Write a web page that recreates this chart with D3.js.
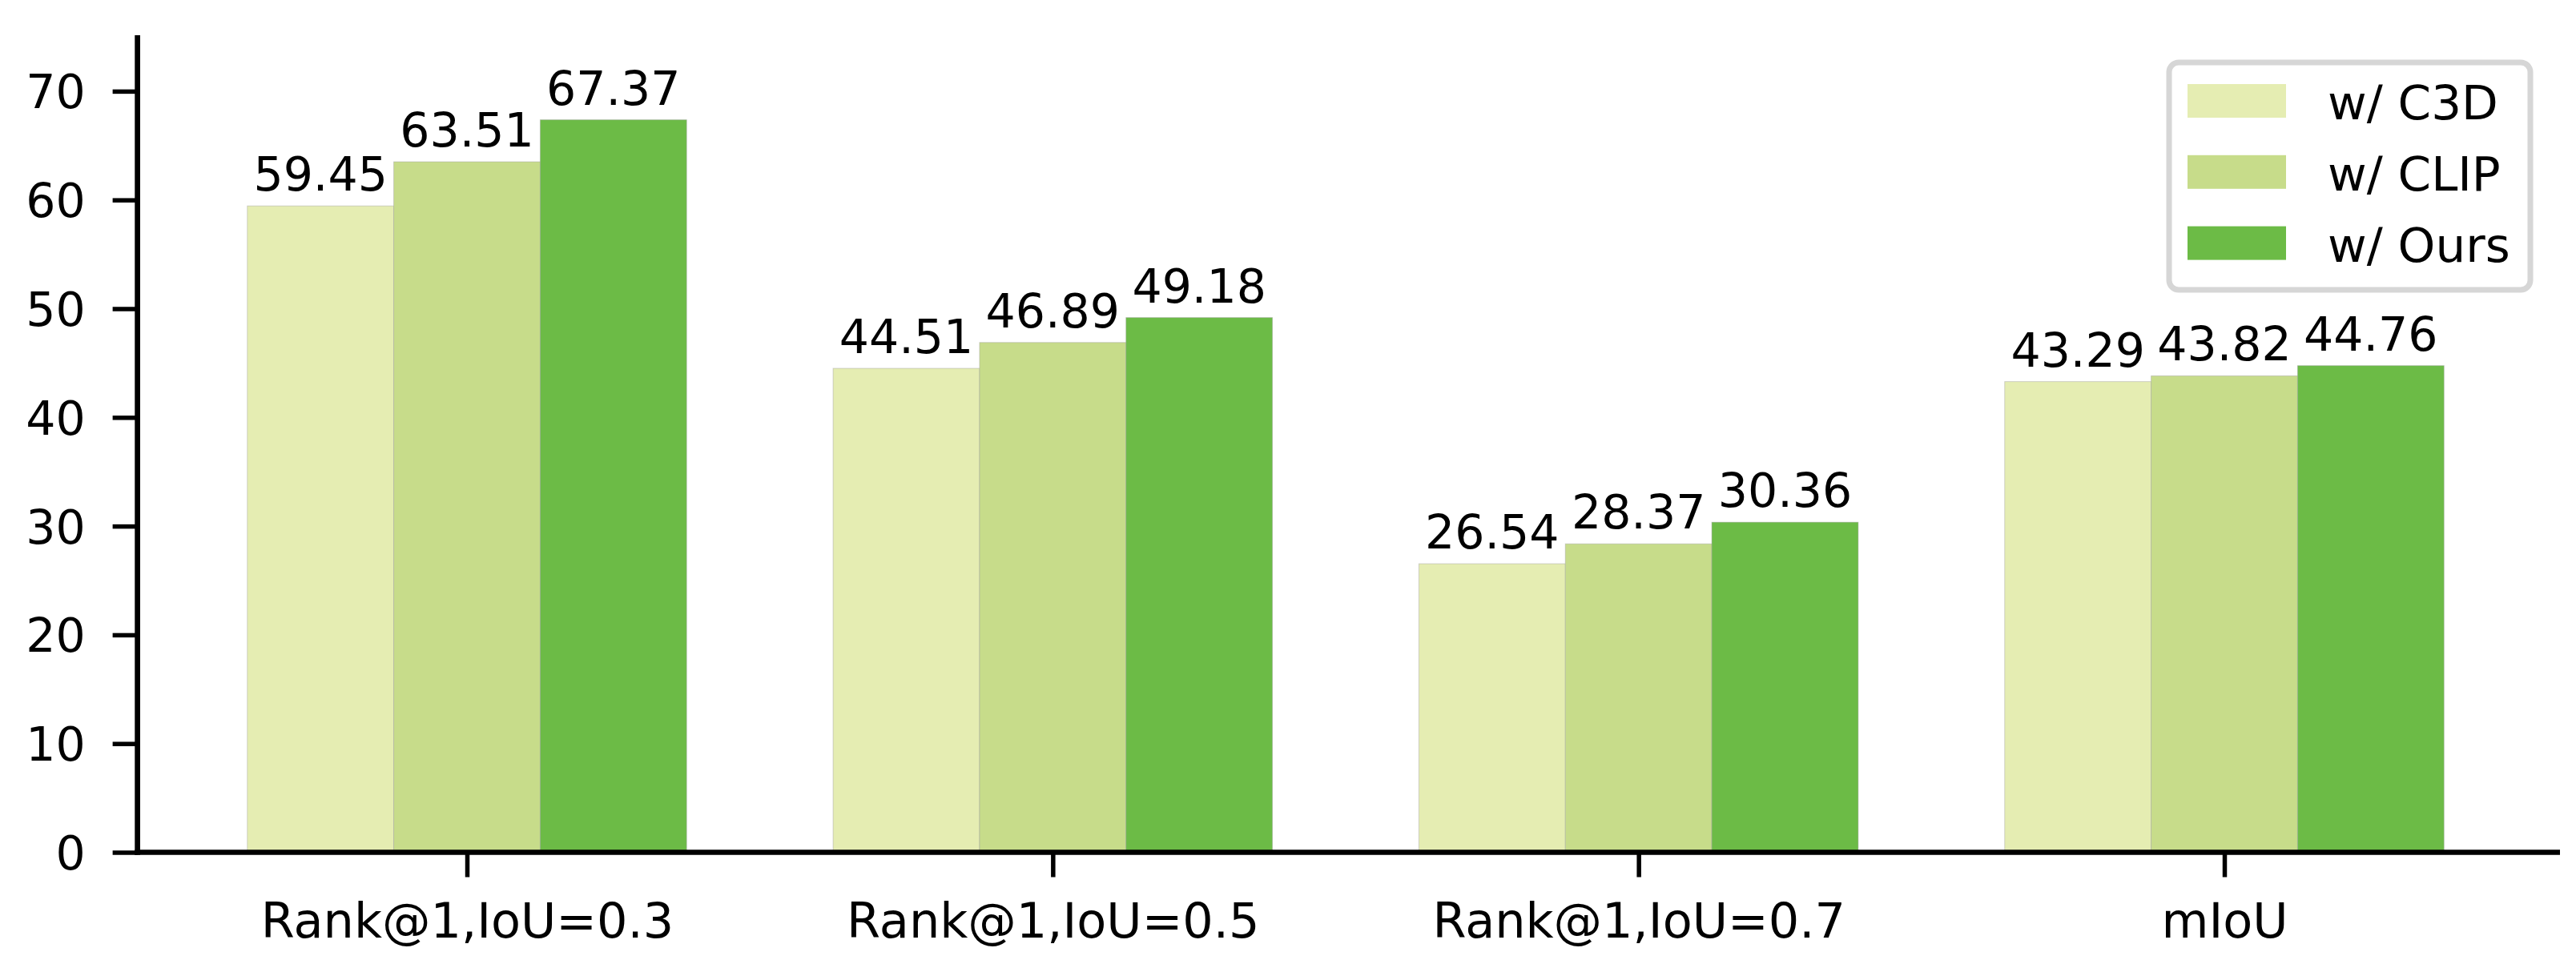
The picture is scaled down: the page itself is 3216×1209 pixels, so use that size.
<!DOCTYPE html>
<html>
<head>
<meta charset="utf-8">
<script src="https://cdn.jsdelivr.net/npm/d3@7"></script>
<style>
  html, body { margin: 0; padding: 0; background: #fff; }
  svg { display: block; }
  text { font-family: "DejaVu Sans", sans-serif; }
</style>
</head>
<body>
<script>
// ---- data ----
const categories = ["Rank@1,IoU=0.3", "Rank@1,IoU=0.5", "Rank@1,IoU=0.7", "mIoU"];
const seriesNames = ["w/ C3D", "w/ CLIP", "w/ Ours"];
const c3dValues  = [59.45, 44.51, 26.54, 43.29];
const clipValues = [63.51, 46.89, 28.37, 43.82];
const oursValues = [67.37, 49.18, 30.36, 44.76];
const seriesColors = ["#e5edb2", "#c7dc8a", "#6cbb46"];
const yTickValues = [0, 10, 20, 30, 40, 50, 60, 70];

const seriesValues = [c3dValues, clipValues, oursValues];

// ---- layout ----
const W = 3216, H = 1209;
const FS = 58.5;
const FSX = 60.5;
const barW = 0.25;

const svg = d3.select("body").append("svg")
  .attr("width", W).attr("height", H)
  .style("background", "#fff");

const x = d3.scaleLinear().domain([0, 3]).range([583, 2777]);
const y = d3.scaleLinear().domain([0, 75]).range([1064.5, 46]);

const xLeft = x(-0.5625);
const xRight = 3196;

// ---- bars ----
const bars = [];
seriesValues.forEach((vals, s) => {
  vals.forEach((v, i) => {
    bars.push({ s, i, v, pos: i + (s - 1) * barW });
  });
});

const bw = x(barW) - x(0);

svg.append("g").selectAll("rect")
  .data(bars)
  .join("rect")
  .attr("x", d => x(d.pos) - bw / 2)
  .attr("y", d => y(d.v))
  .attr("width", bw)
  .attr("height", d => y(0) - y(d.v))
  .attr("fill", d => seriesColors[d.s])
  .attr("stroke", "#a0a0a0")
  .attr("stroke-opacity", 0.45)
  .attr("stroke-width", 1);

// value labels
svg.append("g").selectAll("text")
  .data(bars)
  .join("text")
  .attr("x", d => x(d.pos))
  .attr("y", d => y(d.v) - 19)
  .attr("text-anchor", "middle")
  .attr("font-size", FS)
  .attr("fill", "#000")
  .text(d => d.v.toFixed(2));

// ---- axes ----
const yAxis = d3.axisLeft(y)
  .tickValues(yTickValues)
  .tickSize(31)
  .tickPadding(34)
  .tickFormat(d3.format("d"));

const gy = svg.append("g")
  .attr("transform", `translate(${xLeft},0)`)
  .call(yAxis);
gy.select(".domain").remove();
gy.selectAll(".tick line").attr("stroke", "#000").attr("stroke-width", 5.5);
gy.selectAll(".tick text")
  .attr("font-size", FS)
  .attr("font-family", "DejaVu Sans")
  .attr("fill", "#000")
  .attr("dy", "0.36em");

const xAxis = d3.axisBottom(x)
  .tickValues(d3.range(categories.length))
  .tickSize(31)
  .tickFormat(i => categories[i]);

const gx = svg.append("g")
  .attr("transform", `translate(0,${y(0)})`)
  .call(xAxis);
gx.select(".domain").remove();
gx.selectAll(".tick line").attr("stroke", "#000").attr("stroke-width", 5.5);
gx.selectAll(".tick text")
  .attr("font-size", FSX)
  .attr("font-family", "DejaVu Sans")
  .attr("fill", "#000")
  .attr("y", 106)
  .attr("dy", 0);

// spines
svg.append("line")
  .attr("x1", xLeft).attr("x2", xLeft)
  .attr("y1", 44).attr("y2", y(0) + 3.3)
  .attr("stroke", "#000").attr("stroke-width", 6.7);
svg.append("line")
  .attr("x1", xLeft - 3.3).attr("x2", xRight)
  .attr("y1", y(0)).attr("y2", y(0))
  .attr("stroke", "#000").attr("stroke-width", 6.7);

// ---- legend ----
const lg = svg.append("g");
lg.append("rect")
  .attr("x", 2708).attr("y", 78)
  .attr("width", 451).attr("height", 284)
  .attr("rx", 12).attr("ry", 12)
  .attr("fill", "#fff")
  .attr("stroke", "#d6d6d6")
  .attr("stroke-width", 7);

const items = lg.selectAll("g.item")
  .data(seriesNames)
  .join("g")
  .attr("class", "item")
  .attr("transform", (d, i) => `translate(0,${105 + i * 88.8})`);

items.append("rect")
  .attr("x", 2731).attr("y", 0)
  .attr("width", 123).attr("height", 42)
  .attr("fill", (d, i) => seriesColors[i]);

items.append("text")
  .attr("x", 2906).attr("y", 44)
  .attr("font-size", 59.5)
  .attr("fill", "#000")
  .text(d => d);
</script>
</body>
</html>
